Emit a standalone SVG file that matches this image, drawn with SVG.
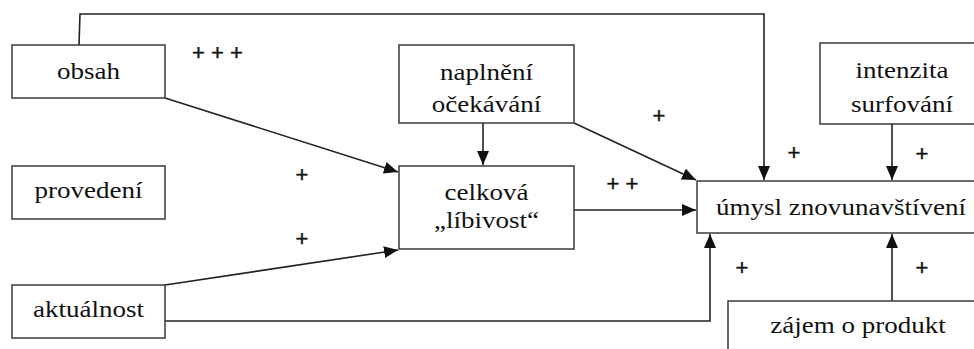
<svg xmlns="http://www.w3.org/2000/svg" width="974" height="349" viewBox="0 0 974 349">
<style>
.box{fill:#fff;stroke:#3a3a3a;stroke-width:1.5}
.lbl{font-size:23.5px;fill:#111;text-anchor:middle}
.pl{font-size:22px;fill:#111;text-anchor:middle;stroke:#111;stroke-width:0.4}
.con{fill:none;stroke:#222;stroke-width:1.6}
</style>
<defs>
<marker id="ah" markerUnits="userSpaceOnUse" markerWidth="15" markerHeight="13" refX="14" refY="6" orient="auto">
<path d="M0,0 L14,6 L0,12 z" fill="#111"/>
</marker>
</defs>
<rect width="974" height="349" fill="#fff"/>
<g id="connectors">
<path class="con" d="M79 45 L80 14 L764 14 L764 180" marker-end="url(#ah)"/>
<path class="con" d="M165 98 L398 172" marker-end="url(#ah)"/>
<path class="con" d="M165 285 L398 250" marker-end="url(#ah)"/>
<path class="con" d="M165 321 L710 321 L710 234" marker-end="url(#ah)"/>
<path class="con" d="M483 123 L483 165" marker-end="url(#ah)"/>
<path class="con" d="M574 123 L696 180" marker-end="url(#ah)"/>
<path class="con" d="M574 210 L696 210" marker-end="url(#ah)"/>
<path class="con" d="M892 124 L892 180" marker-end="url(#ah)"/>
<path class="con" d="M892 301 L892 234" marker-end="url(#ah)"/>
</g>
<g id="obsah"><rect class="box" x="12" y="45" width="153" height="53"/><text class="lbl" font-family="Liberation Serif" transform="translate(88.5 79) scale(1.15 1)">obsah</text></g>
<g id="provedeni"><rect class="box" x="12" y="166" width="153" height="53"/><text class="lbl" font-family="Liberation Serif" transform="translate(88.5 198) scale(1.15 1)">provedení</text></g>
<g id="aktualnost"><rect class="box" x="12" y="285" width="153" height="53"/><text class="lbl" font-family="Liberation Serif" transform="translate(88.5 317) scale(1.15 1)">aktuálnost</text></g>
<g id="naplneni"><rect class="box" x="399" y="45" width="175" height="78"/><text class="lbl" font-family="Liberation Serif" transform="translate(486.5 80) scale(1.15 1)">naplnění</text><text class="lbl" font-family="Liberation Serif" transform="translate(486.5 112) scale(1.15 1)">očekávání</text></g>
<g id="celkova"><rect class="box" x="399" y="166" width="175" height="83"/><text class="lbl" font-family="Liberation Serif" transform="translate(486.5 200) scale(1.15 1)">celková</text><text class="lbl" font-family="Liberation Serif" transform="translate(486.5 228) scale(1.15 1)">„líbivost“</text></g>
<g id="intenzita"><rect class="box" x="820" y="43" width="165" height="81"/><text class="lbl" font-family="Liberation Serif" transform="translate(902 78) scale(1.15 1)">intenzita</text><text class="lbl" font-family="Liberation Serif" transform="translate(902 112) scale(1.15 1)">surfování</text></g>
<g id="umysl"><rect class="box" x="697" y="181" width="288" height="52"/><text class="lbl" font-family="Liberation Serif" transform="translate(841 215) scale(1.15 1)">úmysl znovunavštívení</text></g>
<g id="zajem"><rect class="box" x="728" y="301" width="260" height="60"/><text class="lbl" font-family="Liberation Serif" transform="translate(858 333) scale(1.15 1)">zájem o produkt</text></g>
<g id="signs" font-family="Liberation Sans">
<text class="pl" x="217.5" y="60">+ + +</text>
<text class="pl" x="302" y="182">+</text>
<text class="pl" x="302" y="246">+</text>
<text class="pl" x="659" y="123">+</text>
<text class="pl" x="622.5" y="191">+ +</text>
<text class="pl" x="794" y="160">+</text>
<text class="pl" x="922" y="161">+</text>
<text class="pl" x="742" y="275">+</text>
<text class="pl" x="922" y="275">+</text>
</g>
</svg>
